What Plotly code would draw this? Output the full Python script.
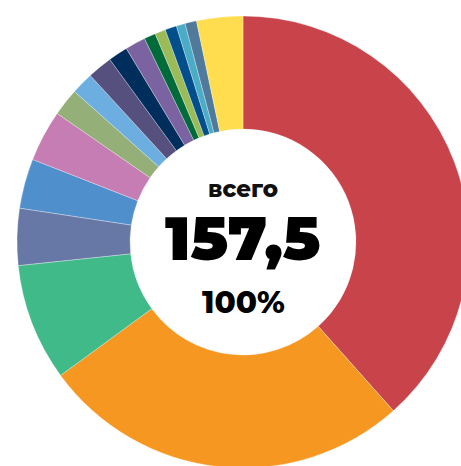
import plotly.graph_objects as go

# slices, clockwise from 12 o'clock
labels = ["s1", "s2", "s3", "s4", "s5", "s6", "s7", "s8", "s9",
          "s10", "s11", "s12", "s13", "s14", "s15", "s16", "s17"]
values = [60.5, 41.8, 13.2, 6.4, 5.6, 5.8, 3.1, 2.5, 2.8,
          2.2, 2.3, 1.3, 1.2, 1.3, 1.0, 1.3, 5.2]
colors = ["#C9444A", "#F69721", "#41BA8A", "#6878A6", "#4F8FCB", "#C57DB4",
          "#94AF78", "#6BAEDF", "#56507F", "#002E5C", "#7A63A0", "#006B3A",
          "#9BBB59", "#004F8C", "#4BACC6", "#4F7A9B", "#FFDD4F"]

total_label = "157,5"
share_label = "100%"
caption = "всего"

W, H = 470, 470
cx, cy, r = 243, 242, 226

fig = go.Figure(go.Pie(
    labels=labels, values=values, sort=False, direction="clockwise",
    rotation=0, hole=0.5, textinfo="none", hoverinfo="label+value",
    marker=dict(colors=colors, line=dict(color="rgba(255,255,255,0.6)", width=0.5)),
    domain=dict(x=[(cx - r) / W, (cx + r) / W],
                y=[1 - (cy + r) / H, 1 - (cy - r) / H]),
))

font = "Montserrat, Inter, Roboto, sans-serif"
fig.add_annotation(x=cx / W, y=1 - 189 / H, xref="paper", yref="paper",
                   text=caption, showarrow=False,
                   font=dict(family=font, size=23, color="#111", weight=800))
fig.add_annotation(x=cx / W, y=1 - 238 / H, xref="paper", yref="paper",
                   text=total_label, showarrow=False,
                   font=dict(family=font, size=61, color="#000", weight=900))
fig.add_annotation(x=cx / W, y=1 - 302 / H, xref="paper", yref="paper",
                   text=share_label, showarrow=False,
                   font=dict(family=font, size=31, color="#000", weight=800))

fig.update_layout(width=W, height=H, margin=dict(l=0, r=0, t=0, b=0),
                  showlegend=False, paper_bgcolor="white", plot_bgcolor="white")

fig.write_html("out.html", config={"displayModeBar": False},
               post_script="document.body.style.margin='0';"
                           "document.body.style.overflow='hidden';"
                           "document.documentElement.style.overflow='hidden';")
